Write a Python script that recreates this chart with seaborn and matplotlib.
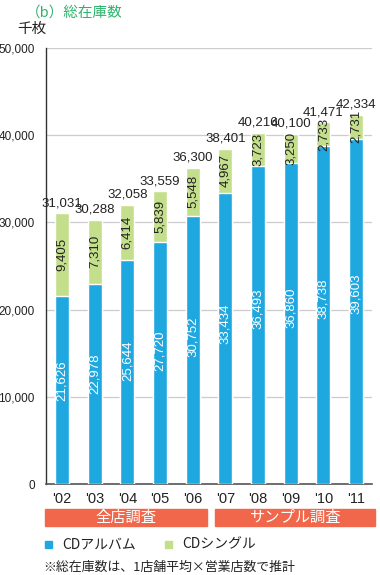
import matplotlib
matplotlib.use('Agg')
import matplotlib.pyplot as plt
import matplotlib.transforms as mtransforms
from matplotlib.patches import Rectangle
import seaborn as sns
import pandas as pd

# データ（千枚）
years = ["'02", "'03", "'04", "'05", "'06", "'07", "'08", "'09", "'10", "'11"]
album = [21626, 22978, 25644, 27720, 30752, 33434, 36493, 36860, 38738, 39603]
single = [9405, 7310, 6414, 5839, 5548, 4967, 3723, 3250, 2733, 2731]
totals = [31031, 30288, 32058, 33559, 36300, 38401, 40216, 40100, 41471, 42334]
yticks = [0, 10000, 20000, 30000, 40000, 50000]

blue = '#1FA8E0'
green = '#C4DF8B'
orange = '#F0674B'
title_green = '#2DB46C'

sns.set_theme(style='white')
jp = ['Noto Sans CJK JP', 'DejaVu Sans']
num = ['Liberation Sans', 'DejaVu Sans']
plt.rcParams['font.family'] = jp

df = pd.DataFrame({'year': years, 'album': album, 'single': single})
df['stack'] = df['album'] + df['single']

fig = plt.figure(figsize=(3.8, 5.75), dpi=100)
ax = fig.add_axes([0.121, 0.158, 0.858, 0.7585])

sns.barplot(data=df, x='year', y='stack', color=green, width=0.42,
            saturation=1, ax=ax, zorder=2)
sns.barplot(data=df, x='year', y='album', color=blue, width=0.42,
            saturation=1, ax=ax, zorder=3)

ax.set_ylim(0, 50000)
ax.set_xlim(-0.49, 9.49)
ax.set_yticks(yticks)
ax.set_yticklabels([f'{v:,}' for v in yticks], fontfamily=num, fontsize=8.5,
                   color='#222222')
ax.set_xticks(range(len(years)))
ax.set_xticklabels(years, fontfamily=num, fontsize=10.5, color='#222222')
ax.tick_params(axis='both', length=0)
ax.tick_params(axis='y', pad=8)
ax.tick_params(axis='x', pad=6)
ax.set_xlabel('')
ax.set_ylabel('')
ax.grid(axis='y', color='#cccccc', linewidth=0.9, zorder=0)
ax.set_axisbelow(True)
for s in ['top', 'right']:
    ax.spines[s].set_visible(False)
ax.spines['left'].set_color('#333333')
ax.spines['bottom'].set_color('#555555')
ax.spines['left'].set_linewidth(1.0)
ax.spines['bottom'].set_linewidth(1.2)

# 棒の中の数値
for i in range(len(years)):
    ax.text(i, album[i] * 0.55, f'{album[i]:,}', rotation=90, ha='center',
            va='center', color='white', fontsize=9.5, fontfamily=num, zorder=4)
    ax.text(i, album[i] + single[i] / 2, f'{single[i]:,}', rotation=90,
            ha='center', va='center', color='#222222', fontsize=9.5,
            fontfamily=num, zorder=4)
    ax.text(i, album[i] + single[i] + 500, f'{totals[i]:,}', ha='center',
            va='bottom', color='#222222', fontsize=9.5, fontfamily=num,
            zorder=4)

# 調査区分の帯
trans = mtransforms.blended_transform_factory(ax.transData, fig.transFigure)
bands = [(-0.52, 4.43, '全店調査'), (4.68, 9.58, 'サンプル調査')]
for x0, x1, label in bands:
    ax.add_patch(Rectangle((x0, 0.085), x1 - x0, 0.029, transform=trans,
                           color=orange, clip_on=False, zorder=5))
    ax.text((x0 + x1) / 2, 0.0995, label, transform=trans, ha='center',
            va='center', color='white', fontsize=11, clip_on=False, zorder=6)

# タイトル
fig.text(0.068, 0.978, '（b）総在庫数', color=title_green, fontsize=10.5,
         va='center', ha='left')
fig.text(0.046, 0.949, '千枚', color='#222222', fontsize=10.5, va='center',
         ha='left')

# 凡例
fig.patches.append(Rectangle((0.118, 0.047), 0.019, 0.0125, color=blue,
                             transform=fig.transFigure, figure=fig))
fig.text(0.165, 0.053, 'CDアルバム', fontsize=10, va='center', ha='left',
         color='#222222')
fig.patches.append(Rectangle((0.434, 0.047), 0.019, 0.0125, color=green,
                             transform=fig.transFigure, figure=fig))
fig.text(0.48, 0.053, 'CDシングル', fontsize=10, va='center', ha='left',
         color='#222222')
fig.text(0.113, 0.013, '※総在庫数は、1店舗平均×営業店数で推計', fontsize=9.3,
         va='center', ha='left', color='#222222')

fig.savefig('out.png', dpi=100)
